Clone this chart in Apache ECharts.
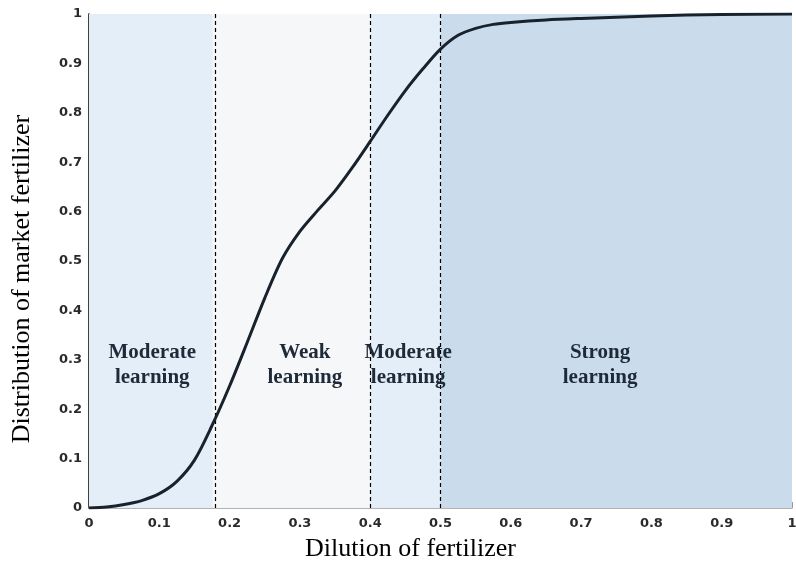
<!DOCTYPE html>
<html>
<head>
<meta charset="utf-8">
<script src="https://cdn.jsdelivr.net/npm/echarts@6/dist/echarts.min.js"></script>
<style>html,body{margin:0;padding:0;background:#fff}#c{width:796px;height:571px}</style>
</head>
<body>
<div id="c"></div>
<script>
var xValues = [0, 0.025, 0.05, 0.075, 0.1, 0.125, 0.15, 0.175, 0.2, 0.225, 0.25, 0.275, 0.3, 0.325, 0.35, 0.375, 0.4, 0.425, 0.45, 0.475, 0.5, 0.525, 0.55, 0.575, 0.6, 0.65, 0.7, 0.8, 0.9, 1.0];
var yValues = [0, 0.002, 0.007, 0.015, 0.029, 0.054, 0.097, 0.167, 0.247, 0.335, 0.425, 0.505, 0.56, 0.602, 0.642, 0.69, 0.742, 0.795, 0.845, 0.889, 0.929, 0.957, 0.971, 0.979, 0.983, 0.988, 0.991, 0.996, 0.999, 1.0];
var zoneBounds = [0, 0.176, 0.4, 0.5, 1];
var zoneNames = ['Moderate\nlearning', 'Weak\nlearning', 'Moderate\nlearning', 'Strong\nlearning'];
var zoneLabelX = [0.09, 0.307, 0.454, 0.727];
var zoneLabelY = 0.29;
var dividers = [0.176, 0.4, 0.5];

var zoneColors = ['#e4eef8', '#f6f7f9', '#e4eef8', '#cadbeb'];

var curve = xValues.map(function (x, i) { return [x, yValues[i]]; });
var areas = zoneNames.map(function (n, i) {
  return [{ xAxis: zoneBounds[i], itemStyle: { color: zoneColors[i] } }, { xAxis: zoneBounds[i + 1] }];
});
var labelPts = zoneNames.map(function (n, i) { return { value: [zoneLabelX[i], zoneLabelY], name: n }; });

var chart = echarts.init(document.getElementById('c'));
var tickLabelStyle = { fontFamily: 'DejaVu Sans, Verdana, sans-serif', fontWeight: 'bold', fontSize: 13, color: '#2a2a2a' };
function fmt(v) { return String(Math.round(v * 10) / 10); }
chart.setOption({
  animation: false,
  grid: { left: 89, right: 4, top: 14, bottom: 63, containLabel: false, outerBoundsMode: 'none' },
  xAxis: {
    type: 'value', min: 0, max: 1, interval: 0.1,
    name: 'Dilution of fertilizer', nameLocation: 'middle', nameGap: 28,
    nameTextStyle: { fontFamily: 'Liberation Serif, Times New Roman, serif', fontSize: 26, color: '#000', padding: [0, 60, 0, 0] },
    axisLine: { show: true, lineStyle: { color: '#9a9a9a', width: 1.5 } },
    axisTick: { show: true, inside: true, length: 6, lineStyle: { color: '#9a9a9a' } },
    axisLabel: Object.assign({ margin: 9, formatter: fmt }, tickLabelStyle),
    splitLine: { show: false }
  },
  yAxis: {
    type: 'value', min: 0, max: 1, interval: 0.1,
    name: 'Distribution of market fertilizer', nameLocation: 'middle', nameGap: 54,
    nameTextStyle: { fontFamily: 'Liberation Serif, Times New Roman, serif', fontSize: 26, color: '#000', padding: [0, 36, 0, 0] },
    axisLine: { show: true, lineStyle: { color: '#000', width: 1.5 } },
    axisTick: { show: true, inside: true, length: 6, lineStyle: { color: '#9a9a9a' } },
    axisLabel: Object.assign({ margin: 7, formatter: fmt }, tickLabelStyle),
    splitLine: { show: false }
  },
  series: [
    {
      type: 'line', data: curve, smooth: 0.3, showSymbol: false, symbol: 'none', z: 5,
      lineStyle: { color: '#18222c', width: 3 },
      markArea: { silent: true, data: areas, z: 1 },
      markLine: {
        silent: true, symbol: 'none', label: { show: false },
        lineStyle: { color: '#000', type: [4, 3], width: 1.2 },
        data: dividers.map(function (d) { return { xAxis: d }; })
      }
    },
    {
      type: 'scatter', data: labelPts, symbolSize: 0, z: 6, silent: true,
      label: {
        show: true, position: 'inside', formatter: function (p) { return p.name; },
        fontFamily: 'Liberation Serif, Times New Roman, serif', fontWeight: 'bold', fontSize: 21,
        lineHeight: 25, color: '#1e2a38', opacity: 1, textBorderWidth: 0, align: 'center'
      }
    }
  ]
});
</script>
</body>
</html>
